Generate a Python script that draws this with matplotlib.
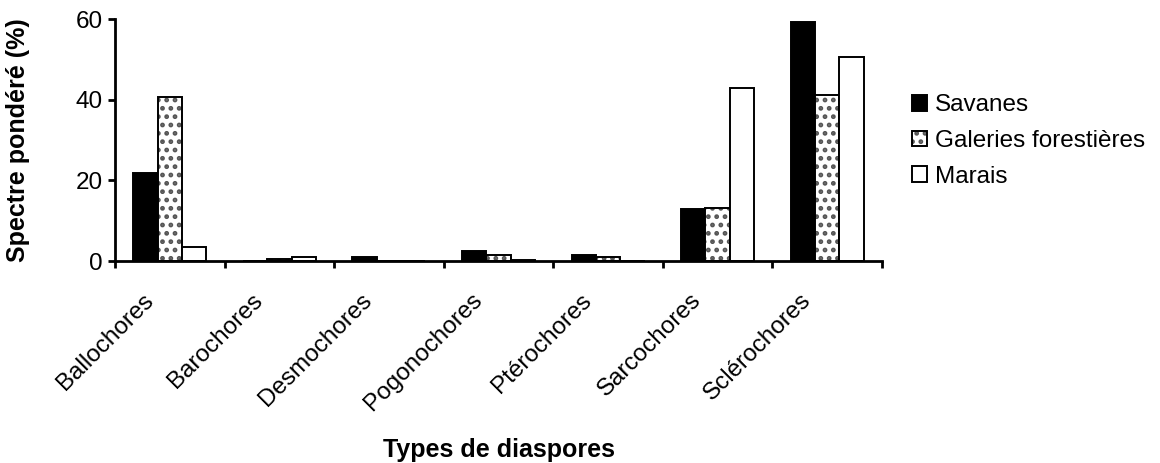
import matplotlib
matplotlib.use("Agg")
import matplotlib.pyplot as plt
from matplotlib.patches import Patch
from matplotlib.legend_handler import HandlerTuple
from matplotlib.transforms import ScaledTranslation
import numpy as np

plt.rcParams['font.family'] = ['Liberation Sans', 'DejaVu Sans']
plt.rcParams['hatch.linewidth'] = 2.2

categories = ["Ballochores", "Barochores", "Desmochores", "Pogonochores",
              "Ptérochores", "Sarcochores", "Sclérochores"]
savanes = [21.8, 0.0, 1.1, 2.6, 1.6, 12.8, 59.2]
galeries = [40.7, 0.6, 0.0, 1.6, 1.1, 13.1, 41.2]
marais = [3.5, 1.0, 0.0, 0.2, 0.0, 43.0, 50.7]
series_names = ["Savanes", "Galeries forestières", "Marais"]

FS = 17.5
FSB = 18
W, H = 1160, 463
fig = plt.figure(figsize=(W / 100, H / 100), dpi=100)
ax = fig.add_axes([115 / W, 1 - 261 / H, (882 - 115) / W, (261 - 19) / H])

x = np.arange(len(categories))
w = 0.222
lw = 1.4
hatch_col = '#555555'
ax.bar(x - w, savanes, w, color='black', edgecolor='black', linewidth=lw)
ax.bar(x, galeries, w, color='white', edgecolor=hatch_col, linewidth=0, hatch='..')
ax.bar(x, galeries, w, fill=False, edgecolor='black', linewidth=lw)
ax.bar(x + w, marais, w, color='white', edgecolor='black', linewidth=lw)

ax.set_xlim(-0.5, len(categories) - 0.5)
ax.set_ylim(0, 60)
ax.set_yticks([0, 20, 40, 60])
ax.set_xticks(np.arange(-0.5, len(categories) + 0.5, 1.0))
ax.set_xticklabels([])
ax.set_xticks(x, minor=True)
ax.set_xticklabels(categories, minor=True, rotation=45, ha='right', va='center',
                   rotation_mode='anchor', fontsize=FS)
ax.tick_params(axis='x', which='minor', length=0, pad=26)
ax.tick_params(axis='x', which='major', length=5, width=2, direction='out')
ax.tick_params(axis='y', length=5, width=2, direction='out', labelsize=FS, pad=4)
off = ScaledTranslation(-0.20, 0, fig.dpi_scale_trans)
for lab in ax.get_xticklabels(minor=True):
    lab.set_transform(lab.get_transform() + off)

for s in ['top', 'right']:
    ax.spines[s].set_visible(False)
for s in ['left', 'bottom']:
    ax.spines[s].set_linewidth(2)

ax.set_ylabel("Spectre pondéré (%)", fontsize=FSB, fontweight='bold')
ax.yaxis.set_label_coords((18.5 - 115) / (882 - 115), 0.5)
ax.yaxis.label.set_verticalalignment('center')
fig.text(499 / W, 1 - 450 / H, "Types de diaspores", fontsize=FSB, fontweight='bold',
         ha='center', va='center')

h1 = Patch(facecolor='black', edgecolor='black', linewidth=1.4)
h2a = Patch(facecolor='white', edgecolor=hatch_col, linewidth=0, hatch='..')
h2b = Patch(fill=False, edgecolor='black', linewidth=1.4)
h3 = Patch(facecolor='white', edgecolor='black', linewidth=1.4)
fig.legend([h1, (h2a, h2b), h3], series_names,
           handler_map={tuple: HandlerTuple(ndivide=1, pad=0)},
           loc='center left', bbox_to_anchor=(912 / W, 1 - 141 / H), frameon=False, fontsize=FS,
           handlelength=0.62, handleheight=0.62, handletextpad=0.33, labelspacing=0.56,
           borderpad=0, borderaxespad=0)

fig.savefig("out.png", dpi=100)
